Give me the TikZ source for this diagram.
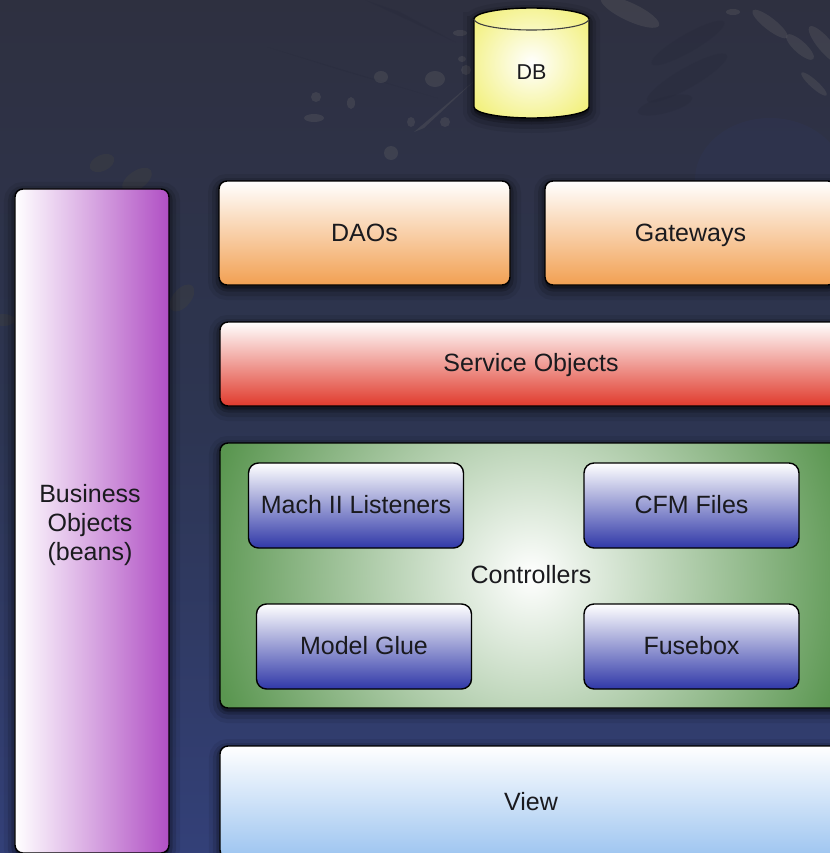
\documentclass[tikz,border=0pt]{standalone}
\usepackage{fontspec}
\setmainfont{Liberation Sans}
\usetikzlibrary{shadows}
\definecolor{bgtop}{HTML}{2E3040}
\definecolor{bgmid}{HTML}{2D3552}
\definecolor{bgbot}{HTML}{334078}
\definecolor{blotcol}{HTML}{5C5D62}
\definecolor{darkblot}{HTML}{26293A}
\definecolor{olivecol}{HTML}{3C3E42}
\definecolor{daocol}{HTML}{F2A052}
\definecolor{svccol}{HTML}{E03A2C}
\definecolor{beancol}{HTML}{B04FC4}
\definecolor{ctrlcol}{HTML}{5A9650}
\definecolor{btncol}{HTML}{3038A8}
\definecolor{viewcol}{HTML}{9CC4F0}
\definecolor{dbcol}{HTML}{F2F07A}
\definecolor{inkcol}{HTML}{1A1A1E}
\pgfdeclareradialshading{ctrlshade}{\pgfpoint{0bp}{0bp}}{color(0bp)=(white); color(25bp)=(ctrlcol); color(50bp)=(ctrlcol)}
\pgfdeclareradialshading{dbshade}{\pgfpoint{0bp}{0bp}}{color(0bp)=(white); color(32bp)=(dbcol); color(50bp)=(dbcol)}
\tikzset{
  softshadow/.style={
    general shadow={draw=black,fill=black,line width=22bp,opacity=.07,shadow yshift=-4bp},
    general shadow={draw=black,fill=black,line width=14bp,opacity=.12,shadow yshift=-4bp},
    general shadow={draw=black,fill=black,line width=7bp,opacity=.18,shadow yshift=-3bp}},
  labeltext/.style={text=inkcol,font=\fontsize{25bp}{29bp}\selectfont},
  layerbox/.style={rectangle,draw=black,line width=1.4bp,rounded corners=8bp,inner sep=0pt,
    labeltext,text height=18.5bp,text depth=2bp,softshadow},
  vgrad/.style={shade,shading angle=0,top color=white,bottom color=#1,middle color=#1!50!white},
  btnbox/.style={rectangle,draw=black,line width=1.4bp,rounded corners=10bp,inner sep=0pt,
    labeltext,text height=18.5bp,text depth=2bp,vgrad=btncol,minimum width=215bp,minimum height=85bp},
  blot/.style={fill=blotcol,opacity=.35},
  darkmark/.style={fill=darkblot,opacity=.3},
}
\begin{document}
\begin{tikzpicture}[x=1bp,y=-1bp]
  \useasboundingbox (0,0) rectangle (830,853);
  \clip (0,0) rectangle (830,853);
  % Backdrop
  \shade[top color=bgtop,bottom color=bgbot,middle color=bgmid] (0,0) rectangle (830,853);
  \fill[bgmid!80!bgbot,opacity=.3] (770,180) circle (75 and 62);
  \fill[darkmark] (267,47) -- (437,98) -- (340,70) -- cycle;
  \fill[darkmark] (365,0) -- (455,42) -- (400,12) -- cycle;
  \fill[darkmark,rotate around={30:(688,43)}] (688,43) ellipse (42 and 9);
  \fill[darkmark,rotate around={30:(687,78)}] (687,78) ellipse (46 and 10);
  \fill[darkmark,rotate around={15:(665,105)}] (665,105) ellipse (28 and 8);
  \fill[blot] (414,132) -- (473,82) -- (424,128) -- cycle;
  \fill[blot] (435,79) ellipse (10 and 8);
  \fill[blot] (381,77) ellipse (7 and 6);
  \fill[blot] (316,97) ellipse (5 and 5);
  \fill[blot] (351,103) ellipse (4 and 6);
  \fill[blot] (314,118) ellipse (10 and 4);
  \fill[blot] (411,122) ellipse (4 and 5);
  \fill[blot] (445,122) ellipse (5 and 5);
  \fill[blot] (391,153) ellipse (7 and 7);
  \fill[blot] (466,70) ellipse (5 and 5);
  \fill[blot] (462,59) ellipse (4 and 3);
  \fill[blot] (460,33) ellipse (7 and 3);
  \fill[blot] (733,12) ellipse (7 and 3);
  \fill[blot,rotate around={-38:(770,24)}] (770,24) ellipse (22 and 6);
  \fill[blot,rotate around={-42:(800,47)}] (800,47) ellipse (18 and 6);
  \fill[blot,rotate around={-42:(814,84)}] (814,84) ellipse (17 and 4);
  \fill[blot,rotate around={-50:(825,45)}] (825,45) ellipse (24 and 7);
  \fill[blot,rotate around={-25:(630,12)}] (630,12) ellipse (32 and 9);
  \fill[fill=olivecol,opacity=.5,rotate around={25:(102,163)}] (102,163) ellipse (13 and 8);
  \fill[fill=olivecol,opacity=.5,rotate around={35:(137,180)}] (137,180) ellipse (17 and 9);
  \fill[fill=olivecol,opacity=.5,rotate around={50:(182,298)}] (182,298) ellipse (16 and 9);
  \fill[fill=olivecol,opacity=.5] (3,320) ellipse (12 and 6);
  % Node: db
  \draw[draw=black,line width=1.4bp,shading=dbshade,softshadow] (474,19)
    -- (474,107) arc[start angle=180,end angle=0,x radius=57.5,y radius=11]
    -- (589,19) arc[start angle=0,end angle=-180,x radius=57.5,y radius=11] -- cycle;
  \draw[draw=black!75,line width=1.1bp] (474,19) arc[start angle=180,end angle=0,x radius=57.5,y radius=11];
  \node[text=inkcol,font=\fontsize{21.5bp}{24bp}\selectfont] (db) at (531.5,72) {DB};
  % Node: beans
  \node[layerbox,shade,left color=white,right color=beancol,minimum width=154bp,minimum height=664bp] (beans) at (92,521) {};
  \node[labeltext,align=center] (beanslabel) at (90,525) {Business\\Objects\\(beans)};
  % Node: daos
  \node[layerbox,vgrad=daocol,minimum width=291bp,minimum height=104bp] (daos) at (364.5,233) {DAOs};
  % Node: gateways
  \node[layerbox,vgrad=daocol,minimum width=291bp,minimum height=104bp] (gateways) at (690.5,233) {Gateways};
  % Node: service
  \node[layerbox,vgrad=svccol,text depth=4bp,minimum width=622bp,minimum height=84bp] (service) at (531,364) {Service Objects};
  % Node: controllers
  \node[layerbox,fill=ctrlcol,minimum width=622bp,minimum height=265bp,
    path picture={\shade[shading=ctrlshade] (path picture bounding box.center) circle (330);}] (controllers) at (531,575.5) {Controllers};
  \node[btnbox] (mach) at (356,505.5) {Mach II Listeners};
  \node[btnbox] (cfm) at (691.5,505.5) {CFM Files};
  \node[btnbox] (glue) at (364,646.5) {Model Glue};
  \node[btnbox] (fusebox) at (691.5,646.5) {Fusebox};
  % Node: view
  \node[layerbox,vgrad=viewcol,minimum width=622bp,minimum height=112bp] (view) at (531,802) {View};
\end{tikzpicture}
\end{document}
